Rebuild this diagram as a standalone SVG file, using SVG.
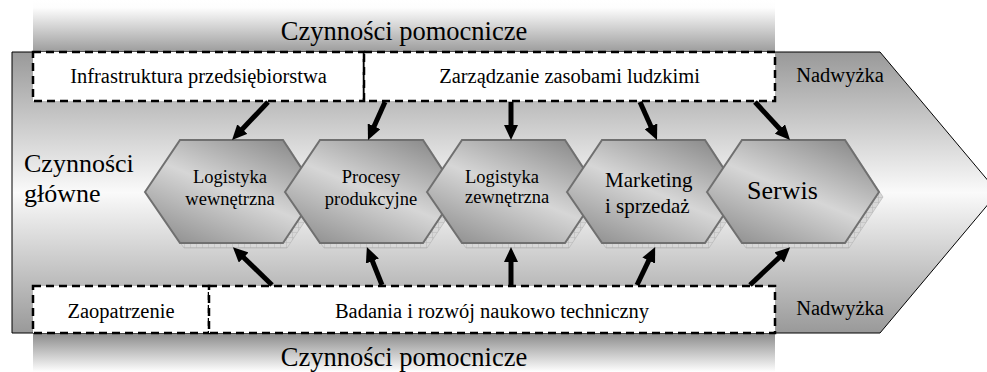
<svg xmlns="http://www.w3.org/2000/svg" width="987" height="372" viewBox="0 0 987 372" font-family="'Liberation Serif', 'Times New Roman', Times, Tinos, 'Noto Serif', 'DejaVu Serif', FreeSerif, serif">
  <defs>
    <linearGradient id="bandTop" gradientUnits="userSpaceOnUse" x1="0" y1="0" x2="0" y2="52">
      <stop offset="0" stop-color="#ffffff"/>
      <stop offset="0.15" stop-color="#fdfdfd"/>
      <stop offset="1" stop-color="#9c9c9c"/>
    </linearGradient>
    <linearGradient id="bandBottom" gradientUnits="userSpaceOnUse" x1="0" y1="333" x2="0" y2="372">
      <stop offset="0" stop-color="#8a8a8a"/>
      <stop offset="1" stop-color="#ffffff"/>
    </linearGradient>
    <linearGradient id="chain" gradientUnits="userSpaceOnUse" x1="0" y1="52" x2="0" y2="333">
      <stop offset="0" stop-color="#999999"/>
      <stop offset="0.5" stop-color="#fafafa"/>
      <stop offset="1" stop-color="#999999"/>
    </linearGradient>
    <linearGradient id="hexFill" x1="0.85" y1="0" x2="0.15" y2="1">
      <stop offset="0" stop-color="#8a8a8a"/>
      <stop offset="0.5" stop-color="#d6d6d6"/>
      <stop offset="1" stop-color="#909090"/>
    </linearGradient>
    <pattern id="tile" width="6" height="5" patternUnits="userSpaceOnUse">
      <rect width="6" height="5" fill="#d8d8d8"/>
      <path d="M0,0.3 H6 M0.3,0 V5" stroke="#b4b4b4" stroke-width="0.6" fill="none"/>
    </pattern>
    <marker id="head" markerUnits="strokeWidth" markerWidth="3" markerHeight="2.8" refX="0.6" refY="1.4" orient="auto">
      <path d="M0,0 L3,1.4 L0,2.8 Z" fill="#000"/>
    </marker>
    <path id="hex" d="M-35,0 L0,-52 L103,-52 L137,0 L103,51 L0,51 Z"/>
  </defs>
  <style>
    text { font-family: "Liberation Serif", "Times New Roman", Times, Tinos, "Noto Serif", "DejaVu Serif", FreeSerif, serif; fill: #000; }
    .box { fill: #ffffff; stroke: #000; stroke-width: 2.5; stroke-dasharray: 8 5; }
    .hex { fill: url(#hexFill); stroke: #707070; stroke-width: 2; }
    .shadow { fill: url(#tile); stroke: #b0b0b0; stroke-width: 0.6; }
    .lbl { font-size: 20.5px; text-anchor: middle; }
    .hexlbl { font-size: 18.5px; text-anchor: middle; }
    .hexlbl-l { font-size: 18.5px; text-anchor: start; }
    .arrow { stroke: #000; stroke-width: 5; fill: none; marker-end: url(#head); }
  </style>

  <!-- support activity bands -->
  <rect x="33" y="0" width="742" height="52" fill="url(#bandTop)"/>
  <rect x="33" y="333" width="742" height="39" fill="url(#bandBottom)"/>
  <text x="404" y="40" font-size="26.5" text-anchor="middle">Czynności pomocnicze</text>
  <text x="404" y="366" font-size="26.5" text-anchor="middle">Czynności pomocnicze</text>

  <!-- value chain body -->
  <g id="chain">
    <path d="M12,52 L880,52 L998,192.5 L880,333 L12,333 Z" fill="url(#chain)" stroke="#000" stroke-width="1"/>
    <text x="24" y="172" font-size="26">Czynności</text>
    <text x="24" y="202" font-size="26">główne</text>
    <text x="840" y="82" class="lbl">Nadwyżka</text>
    <text x="840" y="315" class="lbl">Nadwyżka</text>
  </g>

  <!-- support activities -->
  <g id="infrastruktura">
    <rect class="box" x="33" y="52" width="331" height="49"/>
    <text class="lbl" x="198.5" y="83">Infrastruktura przedsiębiorstwa</text>
  </g>
  <g id="zasoby-ludzkie">
    <rect class="box" x="364" y="52" width="411" height="49"/>
    <line x1="364" y1="52" x2="364" y2="101" stroke="#000" stroke-width="1.2"/>
    <text class="lbl" x="569.5" y="83">Zarządzanie zasobami ludzkimi</text>
  </g>
  <g id="zaopatrzenie">
    <rect class="box" x="33" y="286" width="176" height="47"/>
    <text class="lbl" x="121" y="318">Zaopatrzenie</text>
  </g>
  <g id="badania">
    <rect class="box" x="209" y="286" width="566" height="47"/>
    <text class="lbl" x="492" y="318">Badania i rozwój naukowo techniczny</text>
  </g>

  <!-- primary activities -->
  <g id="logistyka-wewnetrzna" transform="translate(180,192)">
    <use href="#hex" class="shadow" transform="translate(4,5)"/>
    <use href="#hex" class="hex"/>
    <text class="hexlbl" x="50" y="-9">Logistyka</text>
    <text class="hexlbl" x="50" y="13">wewnętrzna</text>
  </g>
  <g id="procesy-produkcyjne" transform="translate(320,192)">
    <use href="#hex" class="shadow" transform="translate(4,5)"/>
    <use href="#hex" class="hex"/>
    <text class="hexlbl" x="51" y="-9">Procesy</text>
    <text class="hexlbl" x="51" y="13">produkcyjne</text>
  </g>
  <g id="logistyka-zewnetrzna" transform="translate(462,192)">
    <use href="#hex" class="shadow" transform="translate(4,5)"/>
    <use href="#hex" class="hex"/>
    <text class="hexlbl-l" x="3" y="-9">Logistyka</text>
    <text class="hexlbl-l" x="3" y="11">zewnętrzna</text>
  </g>
  <g id="marketing" transform="translate(602,192)">
    <use href="#hex" class="shadow" transform="translate(4,5)"/>
    <use href="#hex" class="hex"/>
    <text x="3" y="-5" font-size="21">Marketing</text>
    <text x="3" y="21" font-size="21">i sprzedaż</text>
  </g>
  <g id="serwis" transform="translate(742,192)">
    <use href="#hex" class="shadow" transform="translate(4,5)"/>
    <use href="#hex" class="hex"/>
    <text x="5" y="7" font-size="26">Serwis</text>
  </g>

  <!-- connectors -->
  <g id="connectors">
    <line class="arrow" x1="268" y1="102" x2="240.3" y2="131.3"/>
    <line class="arrow" x1="385" y1="102" x2="372.9" y2="129"/>
    <line class="arrow" x1="511" y1="102" x2="511" y2="128"/>
    <line class="arrow" x1="640" y1="102" x2="652.1" y2="129"/>
    <line class="arrow" x1="755" y1="102" x2="781.9" y2="131.2"/>
    <line class="arrow" x1="272" y1="285" x2="241.5" y2="255.5"/>
    <line class="arrow" x1="382" y1="285" x2="371.3" y2="258.2"/>
    <line class="arrow" x1="511" y1="285" x2="511" y2="259"/>
    <line class="arrow" x1="637" y1="285" x2="650" y2="257.9"/>
    <line class="arrow" x1="750" y1="285" x2="781.4" y2="255.4"/>
  </g>
</svg>
